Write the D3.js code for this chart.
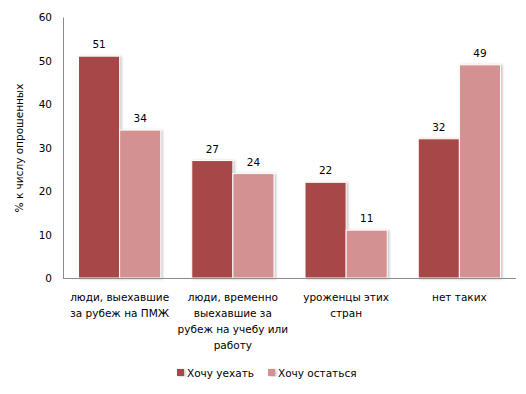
<!DOCTYPE html>
<html>
<head>
<meta charset="utf-8">
<script src="https://cdn.jsdelivr.net/npm/d3@7"></script>
<style>
  body { margin: 0; background: #fff; }
  text { font-family: "DejaVu Sans", Verdana, sans-serif; font-size: 10.5px; fill: #000; }
</style>
</head>
<body>
<div id="chart"></div>
<script>
var categories = ['c1', 'c2', 'c3', 'c4']
var categoryLines = [
  ['люди, выехавшие', 'за рубеж на ПМЖ'],
  ['люди, временно', 'выехавшие за', 'рубеж на учебу  или', 'работу'],
  ['уроженцы этих', 'стран'],
  ['нет таких']
]
var seriesNames = ['Хочу уехать', 'Хочу остаться']
var leave = [51, 27, 22, 32]
var stay = [34, 24, 11, 49]
var yTicks = [0, 10, 20, 30, 40, 50, 60]
var colors = ['#a84747', '#d39191']

var W = 526, H = 394
var m = {left: 63, right: 10, top: 17, bottom: 116}

var svg = d3.select('#chart').append('svg').attr('width', W).attr('height', H)

var defs = svg.append('defs')
var f = defs.append('filter').attr('id', 'sh').attr('x', '-20%').attr('y', '-5%').attr('width', '150%').attr('height', '110%')
f.append('feDropShadow').attr('dx', 1.5).attr('dy', 0.5).attr('stdDeviation', 0.8)
  .attr('flood-color', '#777').attr('flood-opacity', 0.45)

var x0 = d3.scaleBand().domain(categories).range([m.left, W - m.right]).padding(0)
var x1 = d3.scaleBand().domain([0, 1]).range([15.5, x0.bandwidth() - 15.5]).padding(0)
var y = d3.scaleLinear().domain([0, 60]).range([H - m.bottom, m.top])

var rows = categories.map(function(c, i){ return {cat: c, vals: [leave[i], stay[i]]} })

var g = svg.selectAll('g.cat').data(rows).enter().append('g')
  .attr('transform', function(d){ return 'translate(' + x0(d.cat) + ',0)' })

g.selectAll('rect').data(function(d){ return d.vals.map(function(v, j){ return {v: v, j: j} }) })
  .enter().append('rect')
  .attr('x', function(d){ return x1(d.j) })
  .attr('y', function(d){ return y(d.v) })
  .attr('width', x1.bandwidth())
  .attr('height', function(d){ return y(0) - y(d.v) })
  .attr('fill', function(d){ return colors[d.j] })
  .attr('stroke', '#fff').attr('stroke-width', 1)
  .attr('filter', 'url(#sh)')

g.selectAll('text.val').data(function(d){ return d.vals.map(function(v, j){ return {v: v, j: j} }) })
  .enter().append('text')
  .attr('x', function(d){ return x1(d.j) + x1.bandwidth() / 2 })
  .attr('y', function(d){ return y(d.v) - 8 })
  .attr('text-anchor', 'middle')
  .text(function(d){ return d.v })

// y axis
var yAxis = d3.axisLeft(y).tickValues(yTicks).tickSize(0).tickPadding(11)
var ya = svg.append('g').attr('transform', 'translate(' + m.left + ',0)').call(yAxis)
ya.select('.domain').attr('stroke', '#8c8c8c')
ya.selectAll('text').style('font-size', '10.5px').attr('dy', '0.35em')

// baseline
svg.append('line')
  .attr('x1', m.left).attr('x2', W - m.right)
  .attr('y1', y(0) + 0.5).attr('y2', y(0) + 0.5)
  .attr('stroke', '#8c8c8c')

// category labels
categories.forEach(function(c, i){
  var t = svg.append('text').attr('text-anchor', 'middle')
    .attr('x', x0(c) + x0.bandwidth() / 2)
    .attr('y', y(0) + 23)
  categoryLines[i].forEach(function(line, k){
    t.append('tspan').attr('x', x0(c) + x0.bandwidth() / 2).attr('dy', k ? 16 : 0).text(line)
  })
})

// y title
svg.append('text')
  .attr('transform', 'translate(23,148) rotate(-90)')
  .attr('text-anchor', 'middle')
  .text('% к числу опрошенных')

// legend
var legX = [177, 268]
seriesNames.forEach(function(s, i){
  var lg = svg.append('g').attr('transform', 'translate(' + legX[i] + ',369)')
  lg.append('rect').attr('width', 7).attr('height', 7).attr('fill', colors[i])
    .attr('filter', 'url(#sh)')
  lg.append('text').attr('x', 10).attr('y', 8).text(s)
})
</script>
</body>
</html>
